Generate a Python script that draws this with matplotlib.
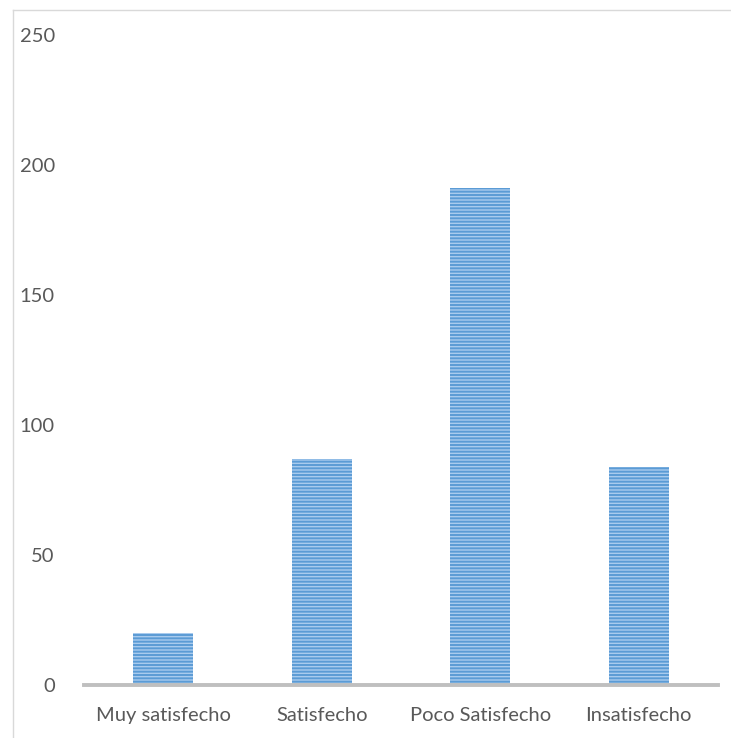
import matplotlib
matplotlib.use("Agg")
import matplotlib.pyplot as plt
from matplotlib.lines import Line2D

# ── DATA ─────────────────────────────────────────────────────────────────────
categorias = ["Muy satisfecho", "Satisfecho", "Poco Satisfecho", "Insatisfecho"]
valores    = [20, 87, 191, 84]
yticks     = [0, 50, 100, 150, 200, 250]

TEXT   = "#595959"
FILL   = "#A9CBEE"
STRIPE = "#5B9BD5"
AXIS   = "#BFBFBF"
FRAME  = "#D9D9D9"

plt.rcParams["font.family"] = ["Lato", "DejaVu Sans"]
plt.rcParams["hatch.linewidth"] = 1.4

W, H = 731, 738
fig = plt.figure(figsize=(W / 100, H / 100), dpi=100)
fig.patch.set_facecolor("white")

# chart area border: only left and top edges fall inside the image
fx, fy = 12.5 / W, 1 - 9.5 / H
fig.add_artist(Line2D([fx, fx], [0, fy], transform=fig.transFigure,
                      color=FRAME, linewidth=1.0))
fig.add_artist(Line2D([fx, 1], [fy, fy], transform=fig.transFigure,
                      color=FRAME, linewidth=1.0))

ax = fig.add_axes([84 / W, 1 - 685 / H, 634 / W, (685 - 35) / H])
x = range(len(categorias))
# hatch lines take the edge colour, so the edge is set to the stripe blue
ax.bar(x, valores, width=0.38, color=FILL, edgecolor=STRIPE, linewidth=0,
       hatch="-----", zorder=2)

ax.set_xlim(-0.5, len(categorias) - 0.5)
ax.set_ylim(0, 250)
ax.set_yticks(yticks)
ax.set_yticklabels([str(v) for v in yticks], fontsize=14.5, color=TEXT)
ax.set_xticks(list(x))
ax.set_xticklabels(categorias, fontsize=14.5, color=TEXT)
ax.tick_params(axis="y", length=0, pad=21)
ax.tick_params(axis="x", length=0, pad=16)

for side in ["top", "right", "left"]:
    ax.spines[side].set_visible(False)
ax.spines["bottom"].set_color(AXIS)
ax.spines["bottom"].set_linewidth(2.8)
ax.spines["bottom"].set_zorder(3)

fig.savefig("out.png", dpi=100, facecolor="white")
